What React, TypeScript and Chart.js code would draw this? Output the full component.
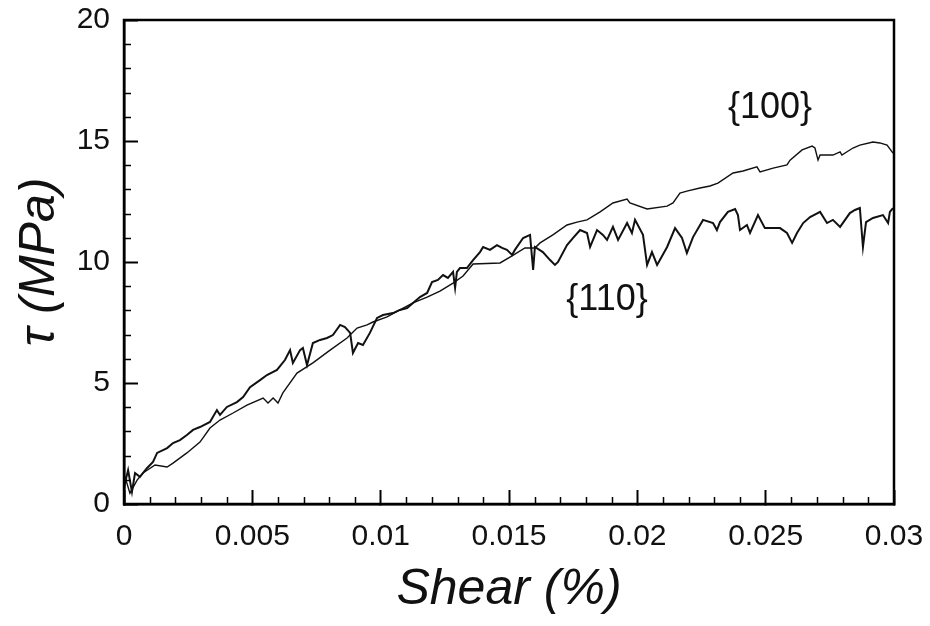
import React, { useEffect, useRef } from "react";
import { Chart, registerables } from "chart.js";

Chart.register(...registerables);

const xTicks = [0, 0.005, 0.01, 0.015, 0.02, 0.025, 0.03];
const xTickLabels = ["0", "0.005", "0.01", "0.015", "0.02", "0.025", "0.03"];
const yTicks = [0, 5, 10, 15, 20];
const yTickLabels = ["0", "5", "10", "15", "20"];
const xMinorTicks = [
  0.001, 0.002, 0.003, 0.004, 0.006, 0.007, 0.008, 0.009, 0.011, 0.012, 0.013, 0.014,
  0.016, 0.017, 0.018, 0.019, 0.021, 0.022, 0.023, 0.024, 0.026, 0.027, 0.028, 0.029,
];
const yMinorTicks = [1, 2, 3, 4, 6, 7, 8, 9, 11, 12, 13, 14, 16, 17, 18, 19];

const xTitle = "Shear (%)";
const yTitle = "τ (MPa)";

const seriesNames = ["{110}", "{100}"];
const nameX = [0.01882, 0.02517];
const nameY = [8.43, 16.36];

const shear110 = [
  0, 0.00004, 0.00016, 0.00031, 0.00043, 0.00062, 0.0009, 0.00113, 0.00129, 0.00168,
  0.00191, 0.00218, 0.00245, 0.00269, 0.00296, 0.00335, 0.00362, 0.00374, 0.00401, 0.0044,
  0.00464, 0.00491, 0.0053, 0.00557, 0.00596, 0.00627, 0.00647, 0.00658, 0.00686, 0.00697,
  0.00713, 0.00736, 0.00764, 0.00791, 0.00814, 0.00842, 0.00861, 0.00881, 0.00892, 0.00912,
  0.00931, 0.00958, 0.00986, 0.01009, 0.01048, 0.01075, 0.01103, 0.01126, 0.01153, 0.01181,
  0.012, 0.01223, 0.01243, 0.01262, 0.01282, 0.0129, 0.01297, 0.01309, 0.01336, 0.0136,
  0.01387, 0.01399, 0.01426, 0.01453, 0.01473, 0.01492, 0.01512, 0.01523, 0.01555, 0.01582,
  0.01594, 0.01601, 0.01632, 0.0166, 0.01679, 0.01691, 0.01726, 0.01749, 0.01777, 0.01804,
  0.01816, 0.01843, 0.01866, 0.01882, 0.01905, 0.01925, 0.0196, 0.01979, 0.01991, 0.02022,
  0.02038, 0.02057, 0.02077, 0.02116, 0.02147, 0.02174, 0.02193, 0.02217, 0.02256, 0.02295,
  0.0231, 0.02322, 0.02353, 0.02381, 0.02392, 0.024, 0.02427, 0.02439, 0.0247, 0.02497,
  0.02529, 0.02556, 0.02583, 0.02603, 0.02622, 0.02646, 0.02673, 0.02712, 0.02739, 0.02762,
  0.0279, 0.02828, 0.02848, 0.02867, 0.02879, 0.02891, 0.02918, 0.02957, 0.02977, 0.02984,
  0.02996,
];
const tau110 = [
  0.58, 0.87, 1.4, 0.5, 1.28, 1.12, 1.49, 1.74, 2.11, 2.31,
  2.52, 2.64, 2.85, 3.06, 3.18, 3.39, 3.88, 3.68, 4.01, 4.21,
  4.42, 4.83, 5.12, 5.33, 5.54, 5.95, 6.36, 5.83, 6.36, 6.45,
  5.74, 6.65, 6.78, 6.86, 6.98, 7.4, 7.31, 7.07, 6.24, 6.65,
  6.57, 7.07, 7.69, 7.81, 7.89, 8.02, 8.1, 8.31, 8.55, 8.72,
  9.17, 9.26, 9.46, 9.34, 9.59, 8.93, 9.59, 9.75, 9.75, 10.08,
  10.41, 10.62, 10.5, 10.7, 10.58, 10.5, 10.29, 10.5, 10.99, 11.12,
  9.67, 10.62, 10.41, 10.08, 9.88, 10.0, 10.7, 10.99, 11.32, 11.2,
  10.62, 11.32, 11.12, 10.91, 11.45, 10.91, 11.61, 11.2, 11.74, 11.12,
  9.88, 10.41, 9.88, 10.62, 11.4, 10.99, 10.37, 11.03, 11.74, 11.61,
  11.32, 11.65, 12.07, 12.19, 11.94, 11.32, 11.53, 11.2, 11.94, 11.4,
  11.4, 11.4, 11.2, 10.79, 11.2, 11.61, 11.86, 12.07, 11.61, 11.74,
  11.45, 12.02, 12.15, 12.23, 10.62, 11.65, 11.82, 11.94, 11.61, 12.07,
  12.23,
];

const shear100 = [
  0, 0.00004, 0.00023, 0.00051, 0.00074, 0.00121, 0.00168, 0.00191, 0.00245, 0.00296,
  0.00335, 0.00374, 0.00425, 0.00479, 0.00542, 0.00561, 0.00581, 0.006, 0.00619, 0.00674,
  0.00736, 0.00803, 0.00869, 0.00908, 0.00947, 0.0097, 0.01025, 0.01075, 0.01126, 0.01181,
  0.01231, 0.01282, 0.01321, 0.0136, 0.01465, 0.01512, 0.01562, 0.01601, 0.01621, 0.01671,
  0.01726, 0.01765, 0.01804, 0.01855, 0.01905, 0.0196, 0.01971, 0.02038, 0.02116, 0.02139,
  0.02166, 0.02193, 0.02244, 0.02283, 0.02314, 0.02373, 0.02412, 0.02466, 0.02478, 0.02529,
  0.02583, 0.02595, 0.02642, 0.02681, 0.02692, 0.02704, 0.02712, 0.02762, 0.0279, 0.02797,
  0.0284, 0.02867, 0.02918, 0.02945, 0.02973, 0.02996,
];
const tau100 = [
  1.07, 1.12, 0.45, 0.99, 1.28, 1.61, 1.53, 1.69, 2.11, 2.56,
  3.14, 3.47, 3.76, 4.09, 4.38, 4.17, 4.38, 4.17, 4.59, 5.41,
  5.83, 6.36, 6.86, 7.27, 7.4, 7.52, 7.73, 8.02, 8.31, 8.55,
  8.8, 9.13, 9.42, 9.92, 9.96, 10.25, 10.58, 10.58, 10.79, 11.12,
  11.53, 11.65, 11.74, 12.07, 12.44, 12.6, 12.44, 12.19, 12.31, 12.44,
  12.85, 12.93, 13.06, 13.14, 13.26, 13.68, 13.76, 13.93, 13.72, 13.88,
  14.01, 14.21, 14.63, 14.79, 14.71, 14.21, 14.42, 14.42, 14.55, 14.42,
  14.71, 14.83, 14.96, 14.92, 14.83, 14.5,
];

const FONT = '"Liberation Sans", Arial, Helvetica, sans-serif';

const overlayPlugin = {
  id: "overlay",
  afterDraw(chart: any) {
    const { ctx, chartArea } = chart;
    const { left, right, top, bottom } = chartArea;
    const xs = chart.scales.x;
    const ys = chart.scales.y;
    ctx.save();
    ctx.strokeStyle = "#000";
    ctx.lineWidth = 1.5;
    xMinorTicks.forEach((v) => {
      const px = Math.round(xs.getPixelForValue(v)) + 0.5;
      ctx.beginPath();
      ctx.moveTo(px, bottom);
      ctx.lineTo(px, bottom - 7);
      ctx.stroke();
    });
    yMinorTicks.forEach((v) => {
      const py = Math.round(ys.getPixelForValue(v)) + 0.5;
      ctx.beginPath();
      ctx.moveTo(left, py);
      ctx.lineTo(left + 7, py);
      ctx.stroke();
    });
    ctx.lineWidth = 2.5;
    ctx.strokeRect(left, top, right - left, bottom - top);
    ctx.fillStyle = "#111";
    ctx.font = `36px ${FONT}`;
    ctx.textAlign = "center";
    ctx.textBaseline = "middle";
    seriesNames.forEach((name, i) => {
      ctx.fillText(name, xs.getPixelForValue(nameX[i]), ys.getPixelForValue(nameY[i]));
    });
    ctx.restore();
  },
};

const zeroPad = (scale: any) => {
  scale.paddingTop = 0;
  scale.paddingBottom = 0;
  scale.paddingLeft = 0;
  scale.paddingRight = 0;
};

export default function App() {
  const ref = useRef<HTMLCanvasElement | null>(null);
  useEffect(() => {
    if (!ref.current) return;
    const chart = new Chart(ref.current, {
      type: "line",
      data: {
        datasets: [
          {
            label: seriesNames[0],
            data: shear110.map((x, i) => ({ x, y: tau110[i] })),
            borderColor: "#111",
            borderWidth: 2,
            pointRadius: 0,
            tension: 0,
            fill: false,
          },
          {
            label: seriesNames[1],
            data: shear100.map((x, i) => ({ x, y: tau100[i] })),
            borderColor: "#111",
            borderWidth: 1.4,
            pointRadius: 0,
            tension: 0,
            fill: false,
          },
        ],
      },
      options: {
        animation: false,
        responsive: false,
        layout: { padding: { top: 20, right: 36, left: 0, bottom: 0 } },
        plugins: { legend: { display: false }, tooltip: { enabled: false } },
        scales: {
          x: {
            type: "linear",
            min: 0,
            max: 0.03,
            afterBuildTicks: (scale: any) => {
              scale.ticks = xTicks.map((v) => ({ value: v }));
            },
            afterFit: (scale: any) => {
              scale.height = 122;
              zeroPad(scale);
            },
            ticks: {
              autoSkip: false,
              maxRotation: 0,
              padding: 29,
              color: "#111",
              font: { family: FONT, size: 30 },
              callback: (_v: any, i: number) => xTickLabels[i],
            },
            grid: {
              display: true,
              drawOnChartArea: false,
              drawTicks: true,
              tickLength: -14,
              tickWidth: 2,
              tickColor: "#000",
            },
            border: { display: true, color: "#000", width: 2.5 },
            title: {
              display: true,
              text: xTitle,
              color: "#111",
              font: { family: FONT, size: 50, style: "italic" },
              padding: { top: 0, bottom: 6 },
            },
          },
          y: {
            type: "linear",
            min: 0,
            max: 20,
            afterBuildTicks: (scale: any) => {
              scale.ticks = yTicks.map((v) => ({ value: v }));
            },
            afterFit: (scale: any) => {
              scale.width = 124;
              zeroPad(scale);
            },
            ticks: {
              autoSkip: false,
              padding: 28,
              color: "#111",
              font: { family: FONT, size: 30 },
              callback: (_v: any, i: number) => yTickLabels[i],
            },
            grid: {
              display: true,
              drawOnChartArea: false,
              drawTicks: true,
              tickLength: -14,
              tickWidth: 2,
              tickColor: "#000",
            },
            border: { display: true, color: "#000", width: 2.5 },
            title: {
              display: true,
              text: yTitle,
              color: "#111",
              font: { family: FONT, size: 50, style: "italic" },
              padding: { top: 10, bottom: 0 },
            },
          },
        },
      },
      plugins: [overlayPlugin],
    });
    return () => chart.destroy();
  }, []);
  return (
    <div style={{ position: "fixed", left: 0, top: 0, width: 930, height: 626, background: "#fff" }}>
      <canvas ref={ref} width={930} height={626} style={{ display: "block" }} />
    </div>
  );
}
